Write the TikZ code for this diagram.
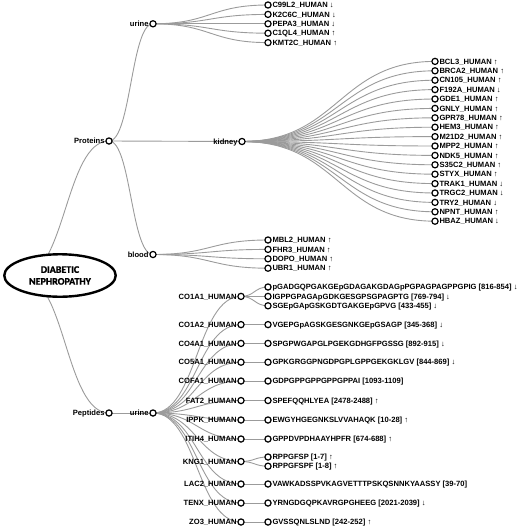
\documentclass[tikz,border=0pt]{standalone}
\usepackage{fontspec}
\usetikzlibrary{calc,backgrounds,shapes.geometric}
\newfontfamily\labfont{Liberation Sans}
\newfontfamily\elfont{Carlito}[BoldFont={Carlito Bold},BoldFeatures={FakeBold=1.5}]
\newcommand{\labsize}{\labfont\bfseries\fontsize{7.6}{9}\selectfont}
\tikzset{
  dot/.style={circle, draw=black, line width=1.2pt, fill=white, minimum size=6.2pt, inner sep=0pt},
  lab/.style={font=\labsize, inner sep=0.6pt, text height=5.4pt, text depth=0pt},
  link/.style={draw={rgb,255:red,155;green,155;blue,155}, line width=0.9pt},
  diag/.style={to path={let \p1=(\tikztostart), \p2=(\tikztotarget) in
     .. controls ({0.5*\x1+0.5*\x2},\y1) and ({0.5*\x1+0.5*\x2},\y2) .. (\tikztotarget)}},
  rootell/.style={ellipse, draw=black, line width=2.4pt, fill=white,
     minimum width=111.5pt, minimum height=42.5pt, inner sep=0pt, align=center,
     text=black, font=\elfont\bfseries\fontsize{10}{11.8}\selectfont}
}
\begin{document}
\begin{tikzpicture}[x=1pt,y=-1pt]
\useasboundingbox (0,0) rectangle (520,530);
\coordinate (rootpt) at (22,276);
% depth 1
\node[dot, label={[lab]left:Proteins}] (prot) at (109,141) {};
\node[dot, label={[lab]left:Peptides}] (pept) at (109,413) {};
% depth 2
\node[dot, label={[lab]left:urine}] (purine) at (153,23.8) {};
\node[dot, label={[lab]left:kidney}] (kid) at (242,141.5) {};
\node[dot, label={[lab]left:blood}] (blood) at (153,254.5) {};
\node[dot, label={[lab]left:urine}] (pepurine) at (153,413) {};
% protein urine leaves
\node[dot, label={[lab]right:C99L2\_HUMAN ↓}] (u1) at (268,5) {};
\node[dot, label={[lab]right:K2C6C\_HUMAN ↓}] (u2) at (268,14.4) {};
\node[dot, label={[lab]right:PEPA3\_HUMAN ↓}] (u3) at (268,23.8) {};
\node[dot, label={[lab]right:C1QL4\_HUMAN ↑}] (u4) at (268,33.2) {};
\node[dot, label={[lab]right:KMT2C\_HUMAN ↑}] (u5) at (268,42.6) {};
% kidney leaves
\node[dot, label={[lab]right:BCL3\_HUMAN ↑}] (k1) at (435,61.4) {};
\node[dot, label={[lab]right:BRCA2\_HUMAN ↑}] (k2) at (435,70.8) {};
\node[dot, label={[lab]right:CN105\_HUMAN ↑}] (k3) at (435,80.2) {};
\node[dot, label={[lab]right:F192A\_HUMAN ↓}] (k4) at (435,89.6) {};
\node[dot, label={[lab]right:GDE1\_HUMAN ↑}] (k5) at (435,99) {};
\node[dot, label={[lab]right:GNLY\_HUMAN ↑}] (k6) at (435,108.4) {};
\node[dot, label={[lab]right:GPR78\_HUMAN ↑}] (k7) at (435,117.8) {};
\node[dot, label={[lab]right:HEM3\_HUMAN ↑}] (k8) at (435,127.2) {};
\node[dot, label={[lab]right:M21D2\_HUMAN ↑}] (k9) at (435,136.6) {};
\node[dot, label={[lab]right:MPP2\_HUMAN ↑}] (k10) at (435,146) {};
\node[dot, label={[lab]right:NDK5\_HUMAN ↑}] (k11) at (435,155.4) {};
\node[dot, label={[lab]right:S35C2\_HUMAN ↑}] (k12) at (435,164.8) {};
\node[dot, label={[lab]right:STYX\_HUMAN ↑}] (k13) at (435,174.2) {};
\node[dot, label={[lab]right:TRAK1\_HUMAN ↓}] (k14) at (435,183.6) {};
\node[dot, label={[lab]right:TRGC2\_HUMAN ↓}] (k15) at (435,193) {};
\node[dot, label={[lab]right:TRY2\_HUMAN ↓}] (k16) at (435,202.4) {};
\node[dot, label={[lab]right:NPNT\_HUMAN ↑}] (k17) at (435,211.8) {};
\node[dot, label={[lab]right:HBAZ\_HUMAN ↓}] (k18) at (435,221.2) {};
% blood leaves
\node[dot, label={[lab]right:MBL2\_HUMAN ↑}] (b1) at (268,240) {};
\node[dot, label={[lab]right:FHR3\_HUMAN ↑}] (b2) at (268,249.4) {};
\node[dot, label={[lab]right:DOPO\_HUMAN ↑}] (b3) at (268,258.8) {};
\node[dot, label={[lab]right:UBR1\_HUMAN ↑}] (b4) at (268,268.2) {};
% peptide proteins (depth 3)
\node[dot, label={[lab]left:CO1A1\_HUMAN}] (p1) at (241,296.4) {};
\node[dot, label={[lab]left:CO1A2\_HUMAN}] (p2) at (241,324.6) {};
\node[dot, label={[lab]left:CO4A1\_HUMAN}] (p3) at (241,343.4) {};
\node[dot, label={[lab]left:CO5A1\_HUMAN}] (p4) at (241,362.2) {};
\node[dot, label={[lab]left:COFA1\_HUMAN}] (p5) at (241,381) {};
\node[dot, label={[lab]left:FAT2\_HUMAN}] (p6) at (241,400.5) {};
\node[dot, label={[lab]left:IPPK\_HUMAN}] (p7) at (241,420) {};
\node[dot, label={[lab]left:ITIH4\_HUMAN}] (p8) at (241,439) {};
\node[dot, label={[lab]left:KNG1\_HUMAN}] (p9) at (241,461.5) {};
\node[dot, label={[lab]left:LAC2\_HUMAN}] (p10) at (241,484) {};
\node[dot, label={[lab]left:TENX\_HUMAN}] (p11) at (241,503) {};
\node[dot, label={[lab]left:ZO3\_HUMAN}] (p12) at (241,522) {};
% peptide leaves
\node[dot, label={[lab]right:pGADGQPGAKGEpGDAGAKGDAGpPGPAGPAGPPGPIG [816-854] ↓}] (q1) at (268,287) {};
\node[dot, label={[lab]right:IGPPGPAGApGDKGESGPSGPAGPTG [769-794] ↓}] (q2) at (268,296.4) {};
\node[dot, label={[lab]right:SGEpGApGSKGDTGAKGEpGPVG [433-455] ↓}] (q3) at (268,305.8) {};
\node[dot, label={[lab]right:VGEPGpAGSKGESGNKGEpGSAGP [345-368] ↓}] (q4) at (268,324.6) {};
\node[dot, label={[lab]right:SPGPWGAPGLPGEKGDHGFPGSSG [892-915] ↓}] (q5) at (268,343.4) {};
\node[dot, label={[lab]right:GPKGRGGPNGDPGPLGPPGEKGKLGV [844-869] ↓}] (q6) at (268,362.2) {};
\node[dot, label={[lab]right:GDPGPPGPPGPPGPPAI [1093-1109]}] (q7) at (268,381) {};
\node[dot, label={[lab]right:SPEFQQHLYEA [2478-2488] ↑}] (q8) at (268,400.5) {};
\node[dot, label={[lab]right:EWGYHGEGNKSLVVAHAQK [10-28] ↑}] (q9) at (268,420) {};
\node[dot, label={[lab]right:GPPDVPDHAAYHPFR [674-688] ↑}] (q10) at (268,439) {};
\node[dot, label={[lab]right:RPPGFSP [1-7] ↑}] (q11) at (268,457) {};
\node[dot, label={[lab]right:RPPGFSPF [1-8] ↑}] (q12) at (268,466.2) {};
\node[dot, label={[lab]right:VAWKADSSPVKAGVETTTPSKQSNNKYAASSY [39-70]}] (q13) at (268,484) {};
\node[dot, label={[lab]right:YRNGDGQPKAVRGPGHEEG [2021-2039] ↓}] (q14) at (268,503) {};
\node[dot, label={[lab]right:GVSSQNLSLND [242-252] ↑}] (q15) at (268,522) {};
% root
\node[rootell] (root) at (60,275.5) {DIABETIC\\NEPHROPATHY};
% links
\begin{scope}[on background layer]
\draw[link] (rootpt) to[diag] (prot.center);
\draw[link] (rootpt) to[diag] (pept.center);
\foreach \c in {purine,kid,blood} \draw[link] (prot.center) to[diag] (\c.center);
\draw[link] (pept.center) to[diag] (pepurine.center);
\foreach \c in {u1,u2,u3,u4,u5} \draw[link] (purine.center) to[diag] (\c.center);
\foreach \c in {k1,k2,k3,k4,k5,k6,k7,k8,k9,k10,k11,k12,k13,k14,k15,k16,k17,k18} \draw[link] (kid.center) to[diag] (\c.center);
\foreach \c in {b1,b2,b3,b4} \draw[link] (blood.center) to[diag] (\c.center);
\foreach \c in {p1,p2,p3,p4,p5,p6,p7,p8,p9,p10,p11,p12} \draw[link] (pepurine.center) to[diag] (\c.center);
\foreach \c in {q1,q2,q3} \draw[link] (p1.center) to[diag] (\c.center);
\draw[link] (p2.center) to[diag] (q4.center);
\draw[link] (p3.center) to[diag] (q5.center);
\draw[link] (p4.center) to[diag] (q6.center);
\draw[link] (p5.center) to[diag] (q7.center);
\draw[link] (p6.center) to[diag] (q8.center);
\draw[link] (p7.center) to[diag] (q9.center);
\draw[link] (p8.center) to[diag] (q10.center);
\draw[link] (p9.center) to[diag] (q11.center);
\draw[link] (p9.center) to[diag] (q12.center);
\draw[link] (p10.center) to[diag] (q13.center);
\draw[link] (p11.center) to[diag] (q14.center);
\draw[link] (p12.center) to[diag] (q15.center);
\end{scope}
\end{tikzpicture}
\end{document}
